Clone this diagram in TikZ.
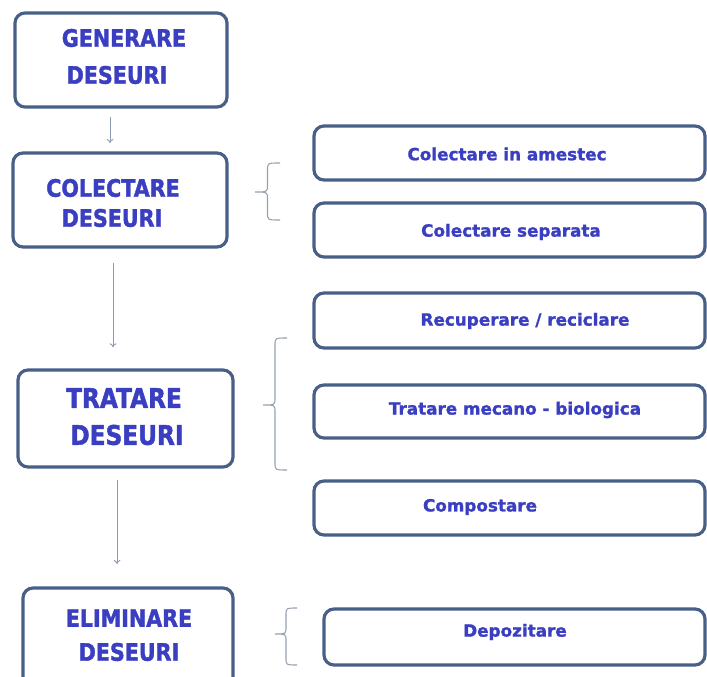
\documentclass[tikz,border=0pt]{standalone}
\usepackage{fontspec}
\usetikzlibrary{arrows.meta}
\newfontfamily\lfont[FakeStretch=0.86,FakeBold=1.6]{DejaVu Sans}
\newfontfamily\rfont[FakeBold=1.3]{DejaVu Sans}
\definecolor{txtblue}{RGB}{58,62,192}
\definecolor{boxedge}{RGB}{72,96,135}
\definecolor{arrcol}{RGB}{140,155,180}
\definecolor{brccol}{RGB}{150,160,175}
\newcommand\wbrace[5]{% xe, xt, ytop, ybot, ytip
  \draw[brc] (#1,#3) .. controls ({(#1+#2)/2},#3) .. ({(#1+#2)/2},{#3+7})
    -- ({(#1+#2)/2},{#5-7}) .. controls ({(#1+#2)/2},#5) .. (#2,#5)
    .. controls ({(#1+#2)/2},#5) .. ({(#1+#2)/2},{#5+7})
    -- ({(#1+#2)/2},{#4-7}) .. controls ({(#1+#2)/2},#4) .. (#1,#4);}
\begin{document}
\begin{tikzpicture}[x=0.75pt,y=-0.75pt,
  lbox/.style={draw=boxedge, line width=2.4pt, rounded corners=7.5pt, fill=white},
  ltext/.style={text=txtblue, font=\lfont\bfseries\fontsize{18pt}{20pt}\selectfont, inner sep=0pt},
  bigtext/.style={text=txtblue, font=\lfont\bfseries\fontsize{20.25pt}{22pt}\selectfont, inner sep=0pt},
  rtext/.style={text=txtblue, font=\rfont\bfseries\fontsize{12.6pt}{14pt}\selectfont, inner sep=0pt},
  arr/.style={draw=arrcol, line width=0.7pt, -{To[length=3pt,width=5pt]}},
  brc/.style={draw=brccol, line width=0.8pt}]
\useasboundingbox (0,0) rectangle (707,677);
% left column boxes
\draw[lbox] (15,13) rectangle (227,107) node[pos=0.5, inner sep=0pt] (gen) {};
\draw[lbox] (13,153) rectangle (227,247) node[pos=0.5, inner sep=0pt] (col) {};
\draw[lbox] (18,370) rectangle (233,467) node[pos=0.5, inner sep=0pt] (tra) {};
\draw[lbox] (23,588) rectangle (233,700) node[pos=0.5, inner sep=0pt] (eli) {};
\coordinate (genS) at (110,107); \coordinate (colN) at (110,153);
\coordinate (colS) at (113,247); \coordinate (traN) at (113,370);
\coordinate (traS) at (117,467); \coordinate (eliN) at (117,588);
% left texts
\node[ltext] (genA) at (124,38) {GENERARE};
\node[ltext] (genB) at (117,75) {DESEURI};
\node[ltext] (colA) at (113,188) {COLECTARE};
\node[ltext] (colB) at (112,218) {DESEURI};
\node[bigtext] (traA) at (124,398) {TRATARE};
\node[bigtext] (traB) at (127,435) {DESEURI};
\node[ltext] (eliA) at (129,618) {ELIMINARE};
\node[ltext] (eliB) at (129,652) {DESEURI};
% arrows
\draw[arr, shorten <=7.5pt, shorten >=7.5pt] (genS) -- (colN);
\draw[arr, shorten <=12pt, shorten >=17pt] (colS) -- (traN);
\draw[arr, shorten <=9.75pt, shorten >=18pt] (traS) -- (eliN);
% right column boxes
\draw[lbox] (314,126) rectangle (705,180) node[pos=0.5, inner sep=0pt] (r1) {};
\draw[lbox] (314,203) rectangle (705,257) node[pos=0.5, inner sep=0pt] (r2) {};
\draw[lbox] (314,293) rectangle (705,348) node[pos=0.5, inner sep=0pt] (r3) {};
\draw[lbox] (314,385) rectangle (705,438) node[pos=0.5, inner sep=0pt] (r4) {};
\draw[lbox] (314,481) rectangle (705,535) node[pos=0.5, inner sep=0pt] (r5) {};
\draw[lbox] (324,609) rectangle (705,665) node[pos=0.5, inner sep=0pt] (r6) {};
% right texts
\node[rtext] (t1) at (507,154) {Colectare in amestec};
\node[rtext] (t2) at (511,232) {Colectare separata};
\node[rtext] (t3) at (525,321) {Recuperare / reciclare};
\node[rtext] (t4) at (515,410) {Tratare mecano - biologica};
\node[rtext] (t5) at (480,507) {Compostare};
\node[rtext] (t6) at (515,632) {Depozitare};
% braces
\wbrace{280}{255}{163}{220}{192}
\wbrace{287}{263}{338}{470}{405}
\wbrace{297}{275}{608}{665}{634}
\end{tikzpicture}
\end{document}
